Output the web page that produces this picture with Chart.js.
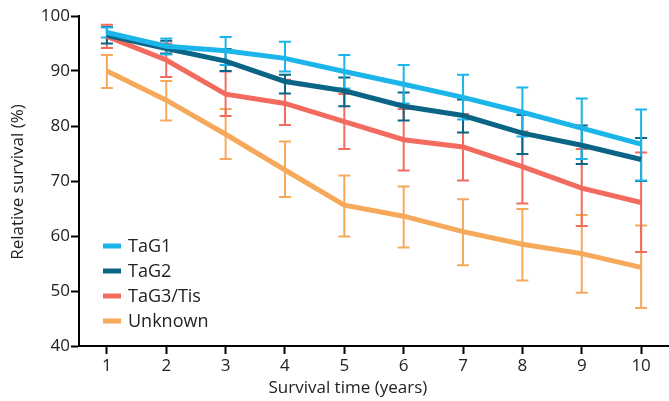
<!DOCTYPE html>
<html>
<head>
<meta charset="utf-8">
<script src="https://cdn.jsdelivr.net/npm/chart.js@4/dist/chart.umd.min.js"></script>
<style>
html,body{margin:0;padding:0;background:#fff;}
#wrap{width:669px;height:401px;position:relative;}
</style>
</head>
<body>
<div id="wrap"><canvas id="c"></canvas></div>
<script>
const years = [1,2,3,4,5,6,7,8,9,10];
const yTicks = [40,50,60,70,80,90,100];

const tag1 = [97.0, 94.5, 93.7, 92.3, 89.9, 87.6, 85.2, 82.5, 79.6, 76.7];
const tag1Low = [96.1, 93.0, 91.1, 89.9, 86.8, 84.1, 81.2, 78.1, 74.0, 70.1];
const tag1High = [97.9, 95.9, 96.2, 95.3, 92.9, 91.1, 89.3, 87.0, 85.0, 83.0];

const tag2 = [96.5, 94.1, 91.8, 88.1, 86.4, 83.6, 81.9, 78.7, 76.5, 73.9];
const tag2Low = [95.0, 93.2, 90.0, 85.9, 83.6, 81.0, 78.8, 74.9, 73.1, 70.0];
const tag2High = [98.0, 95.5, 94.0, 89.3, 88.8, 86.1, 84.8, 82.0, 80.1, 77.8];

const tag3 = [96.3, 92.0, 85.8, 84.1, 80.8, 77.5, 76.2, 72.6, 68.7, 66.1];
const tag3Low = [94.2, 88.9, 81.8, 80.2, 75.8, 71.9, 70.1, 65.9, 61.8, 57.1];
const tag3High = [98.4, 95.0, 89.9, 88.4, 85.8, 83.1, 82.2, 79.0, 75.8, 75.2];

const unknown = [90.0, 84.7, 78.5, 72.0, 65.6, 63.6, 60.8, 58.5, 56.8, 54.3];
const unknownLow = [86.9, 81.0, 74.0, 67.1, 59.9, 57.9, 54.7, 51.9, 49.7, 46.9];
const unknownHigh = [92.9, 88.2, 83.1, 77.2, 71.0, 69.0, 66.7, 64.9, 63.8, 61.9];

const seriesNames = ['TaG1','TaG2','TaG3/Tis','Unknown'];
const seriesColors = ['#1bb5e9','#0a6486','#f26b5e','#f6a95b'];
const seriesValues = [tag1, tag2, tag3, unknown];
const seriesLow = [tag1Low, tag2Low, tag3Low, unknownLow];
const seriesHigh = [tag1High, tag2High, tag3High, unknownHigh];

const xTitle = 'Survival time (years)';
const yTitle = 'Relative survival (%)';

const FONT = "'Open Sans', sans-serif";
const TEXT = '#222222';

const datasets = seriesNames.map((name, i) => ({
  label: name,
  data: years.map((x, j) => ({x: x, y: seriesValues[i][j]})),
  low: seriesLow[i],
  high: seriesHigh[i],
  borderColor: seriesColors[i],
  backgroundColor: seriesColors[i],
  borderWidth: 5,
  pointRadius: 0,
  tension: 0,
  fill: false
}));

const errorBars = {
  id: 'errorBars',
  beforeDatasetsDraw(chart) {
    const ctx = chart.ctx;
    const xs = chart.scales.x, ys = chart.scales.y;
    ctx.save();
    for (let i = chart.data.datasets.length - 1; i >= 0; i--) {
      const ds = chart.data.datasets[i];
      ctx.strokeStyle = ds.borderColor;
      ctx.lineWidth = 2;
      ds.data.forEach((p, j) => {
        const px = xs.getPixelForValue(p.x);
        const yl = ys.getPixelForValue(ds.low[j]);
        const yh = ys.getPixelForValue(ds.high[j]);
        ctx.beginPath();
        ctx.moveTo(px, yl); ctx.lineTo(px, yh);
        ctx.moveTo(px - 6, yl); ctx.lineTo(px + 6, yl);
        ctx.moveTo(px - 6, yh); ctx.lineTo(px + 6, yh);
        ctx.stroke();
      });
    }
    ctx.restore();
  }
};

const innerLegend = {
  id: 'innerLegend',
  afterDraw(chart) {
    const ctx = chart.ctx;
    const a = chart.chartArea;
    ctx.save();
    ctx.font = '18px ' + FONT;
    ctx.textBaseline = 'middle';
    ctx.textAlign = 'left';
    chart.data.datasets.forEach((ds, i) => {
      const y = a.bottom - 100 + i * 25;
      ctx.strokeStyle = ds.borderColor;
      ctx.lineWidth = 5;
      ctx.beginPath();
      ctx.moveTo(a.left + 24, y);
      ctx.lineTo(a.left + 42, y);
      ctx.stroke();
      ctx.fillStyle = TEXT;
      ctx.fillText(ds.label, a.left + 49, y + 1);
    });
    // axis titles
    ctx.font = '17px ' + FONT;
    ctx.textAlign = 'center';
    ctx.fillText(xTitle, chart.width * 0.52, 388);
    ctx.translate(18, (a.top + a.bottom) / 2 + 1);
    ctx.rotate(-Math.PI / 2);
    ctx.fillText(yTitle, 0, 0);
    ctx.restore();
  }
};

new Chart(document.getElementById('c'), {
  type: 'line',
  data: { datasets: datasets },
  plugins: [errorBars, innerLegend],
  options: {
    responsive: true,
    maintainAspectRatio: false,
    animation: false,
    layout: { padding: { top: 16, right: 0, left: 0, bottom: 0 } },
    plugins: { legend: { display: false }, tooltip: { enabled: false } },
    scales: {
      x: {
        type: 'linear',
        min: 0.53,
        max: 10.47,
        afterBuildTicks(scale) { scale.ticks = years.map(v => ({value: v})); },
        afterFit(scale) { scale.height = 55; },
        grid: { drawOnChartArea: false, color: '#000', tickLength: 8, tickWidth: 2 },
        border: { color: '#000', width: 2 },
        ticks: { color: TEXT, font: { family: FONT, size: 17 }, padding: 2, maxRotation: 0 }
      },
      y: {
        min: 40,
        max: 100,
        afterBuildTicks(scale) { scale.ticks = yTicks.map(v => ({value: v})); },
        afterFit(scale) { scale.width = 79; },
        grid: { drawOnChartArea: false, color: '#000', tickLength: 8, tickWidth: 2 },
        border: { color: '#000', width: 2 },
        ticks: { color: TEXT, font: { family: FONT, size: 17 }, padding: 1 }
      }
    }
  }
});
</script>
</body>
</html>
